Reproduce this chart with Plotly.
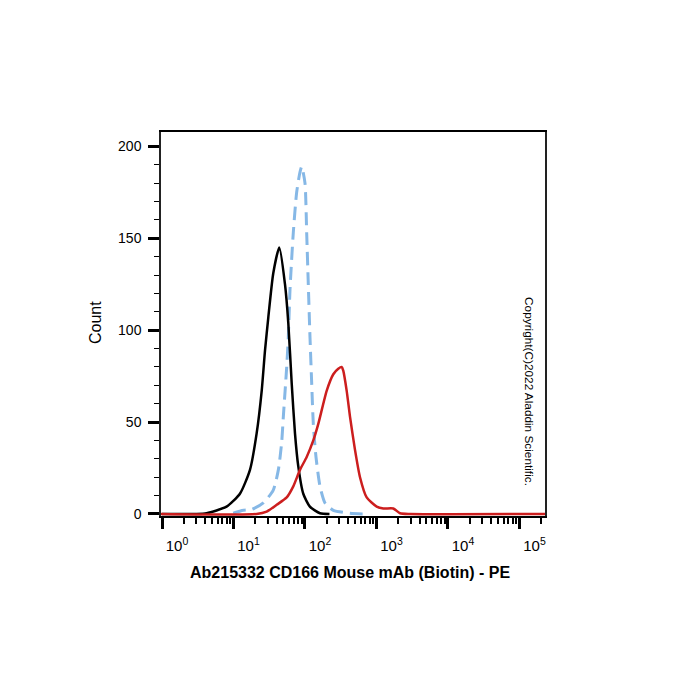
import plotly.graph_objects as go

# ---- data (fluorescence intensity, count) ----
black_x = [1.0, 3.0, 4.2, 8.0, 12.3, 17.0, 21.1, 24.8, 27.6, 30.7, 36.0, 43.7, 52.5, 58.4, 65.2, 72.4, 80.5, 94.6, 117, 162, 220]
black_y = [0, 0, 0.4, 4, 11, 24, 44, 67, 89, 107, 131, 145, 125, 104, 71, 44, 26, 11, 4, 0.4, 0]

blue_x = [9.9, 13.7, 18.0, 26.1, 36.0, 42.4, 47.2, 49.8, 55.5, 58.4, 61.7, 68.6, 76.5, 85.1, 89.9, 100, 105.6, 111.2, 117.5, 124.1, 130.7, 142.5, 162.2, 190.5, 249, 426, 700]
blue_y = [0.4, 2, 2.5, 6, 13, 24, 39, 53, 80, 96, 122, 153, 175, 186, 189, 180, 153, 125, 96, 71, 49, 31, 15, 6, 2, 0.4, 0]

red_x = [0.95, 21.1, 29.1, 40.2, 55.5, 68.6, 85.1, 105.6, 130.7, 153.5, 201, 249, 292, 326, 343, 383, 426, 500, 588, 729, 1007, 1247, 1718, 2133, 3000, 240000]
red_y = [0, 0, 1.3, 5, 9, 15, 24, 31, 40, 49, 67, 76, 79, 80, 78, 67, 53, 35, 20, 9, 4, 3, 3, 0.4, 0, 0]

major_x = [1, 10, 100, 1000, 10000, 100000]
major_x_text = ["10<sup>0</sup>", "10<sup>1</sup>", "10<sup>2</sup>", "10<sup>3</sup>", "10<sup>4</sup>", "10<sup>5</sup>"]
minor_x = [k * 10 ** n for n in range(0, 6) for k in range(2, 10)]
major_y = [0, 50, 100, 150, 200]
minor_y = list(range(0, 210, 10))

x_title = "Ab215332 CD166 Mouse mAb (Biotin) - PE"
y_title = "Count"
copyright_text = "Copyright(C)2022 Aladdin Scientific."

FONT = "Liberation Sans, Arial, sans-serif"

fig = go.Figure()
fig.add_trace(go.Scatter(x=blue_x, y=blue_y, mode="lines",
                         line=dict(color="#86b8e6", width=3, dash="13px,7px", shape="spline", smoothing=0.6),
                         showlegend=False, hoverinfo="skip"))
fig.add_trace(go.Scatter(x=black_x, y=black_y, mode="lines",
                         line=dict(color="#000000", width=2.5, shape="spline", smoothing=0.6),
                         showlegend=False, hoverinfo="skip"))
fig.add_trace(go.Scatter(x=red_x, y=red_y, mode="lines",
                         line=dict(color="#cc1e1e", width=2.5, shape="spline", smoothing=0.6),
                         showlegend=False, hoverinfo="skip"))

fig.update_layout(
    width=700, height=700,
    margin=dict(l=161, r=155, t=132, b=184),
    paper_bgcolor="white", plot_bgcolor="white",
    font=dict(family=FONT, color="black", size=14),
    xaxis=dict(
        type="log", range=[-0.014, 5.357],
        showgrid=False, zeroline=False,
        showline=True, linecolor="black", linewidth=2, mirror=True,
        tickmode="array", tickvals=major_x, ticktext=major_x_text,
        ticks="outside", ticklen=11, tickwidth=3, tickcolor="black",
        ticklabelshift=15, ticklabelstandoff=4,
        tickfont=dict(family=FONT, size=15, color="black"),
        minor=dict(tickvals=minor_x, ticks="outside", ticklen=6, tickwidth=2, tickcolor="black", showgrid=False),
    ),
    yaxis=dict(
        range=[-1.1, 207.8],
        showgrid=False, zeroline=False,
        showline=True, linecolor="#222222", linewidth=1.5, mirror=True,
        tickmode="array", tickvals=major_y,
        ticks="outside", ticklen=11, tickwidth=3, tickcolor="black",
        ticklabelstandoff=4,
        tickfont=dict(family=FONT, size=14, color="black"),
        minor=dict(tickvals=minor_y, ticks="outside", ticklen=5, tickwidth=1, tickcolor="black", showgrid=False),
    ),
)

fig.add_annotation(text=y_title, xref="paper", yref="paper", x=-0.172, y=0.505,
                   textangle=-90, showarrow=False, font=dict(family=FONT, size=16, color="black"),
                   xanchor="center", yanchor="middle")
fig.add_annotation(text="<b>" + x_title + "</b>", xref="paper", yref="paper", x=0.492, y=-0.148,
                   showarrow=False, font=dict(family=FONT, size=16, color="black"),
                   xanchor="center", yanchor="middle")
fig.add_annotation(text=copyright_text, xref="paper", yref="paper", x=0.958, y=0.323,
                   textangle=90, showarrow=False, font=dict(family=FONT, size=11.8, color="black"),
                   xanchor="center", yanchor="middle")

fig.write_html("out.html")
